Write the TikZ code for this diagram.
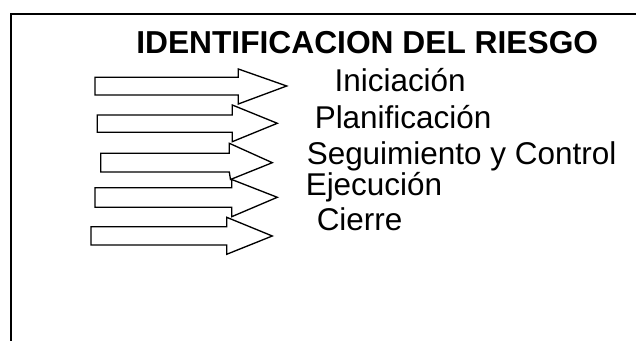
\documentclass[tikz,border=0pt]{standalone}
\usepackage{fontspec}
\setmainfont{Liberation Sans}
\begin{document}
\begin{tikzpicture}[x=0.75pt,y=-0.75pt,
  hollow/.style={draw=black,fill=white,line width=1pt,line join=miter},
  frameline/.style={draw=black,line width=1.1pt},
  titletext/.style={anchor=base west,inner sep=0pt,font=\fontsize{23.8pt}{28pt}\selectfont\bfseries},
  phasetext/.style={anchor=base west,inner sep=0pt,font=\fontsize{23.6pt}{28pt}\selectfont}]
\useasboundingbox (0,0) rectangle (636,341);
\draw[frameline] (11,345) -- (11,14) -- (640,14);
% arrows
\draw[hollow] (95,77.3) -- (238.3,77.3) -- (238.3,69) -- (286.7,86) -- (238.3,104) -- (238.3,95) -- (95,95) -- cycle;
\draw[hollow] (97.3,115) -- (232.3,115) -- (232.3,105) -- (277.3,123.3) -- (232.3,141.7) -- (232.3,132.3) -- (97.3,132.3) -- cycle;
\draw[hollow] (100.7,153.3) -- (229.3,153.3) -- (229.3,143.3) -- (272.3,162.7) -- (230.5,179.5) -- (229.3,172) -- (100.7,172) -- cycle;
\draw[hollow] (95,187.7) -- (231.7,187.7) -- (231.7,179.5) -- (277.3,197.3) -- (231.7,216.7) -- (231.7,207.3) -- (95,207.3) -- cycle;
\draw[hollow] (91,226.7) -- (226.7,226.7) -- (226.7,217.3) -- (272.3,236) -- (226.7,254.3) -- (226.7,245) -- (91,245) -- cycle;
% texts
\node[titletext] (title) at (136,53.3) {IDENTIFICACION DEL RIESGO};
\node[phasetext] (ini) at (334.3,91.5) {Iniciación};
\node[phasetext] (plan) at (314.5,128.5) {Planificación};
\node[phasetext] (seg) at (306.5,165) {Seguimiento y Control};
\node[phasetext] (eje) at (305.5,196) {Ejecución};
\node[phasetext] (cie) at (316.5,230.5) {Cierre};
\end{tikzpicture}
\end{document}
